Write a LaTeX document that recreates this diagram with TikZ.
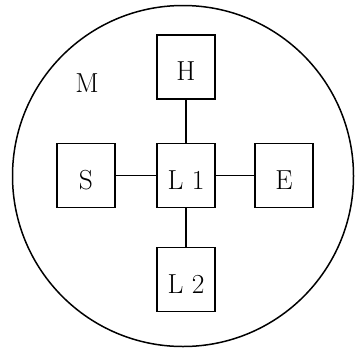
\documentclass[tikz,border=0pt]{standalone}
\usepackage{fontspec}
\setmainfont{Latin Modern Roman}
\begin{document}
\begin{tikzpicture}[x=1pt,y=-1pt,line width=1.5pt,
  box/.style={draw,rectangle,minimum width=58pt,minimum height=64pt,inner sep=0pt,
    text height=27.2pt,text depth=0pt,font=\fontsize{27.5}{32}\selectfont},
  lbl/.style={font=\fontsize{27.5}{32}\selectfont,inner sep=0pt}]
\useasboundingbox (0,0) rectangle (355,348);
\node[draw,circle,minimum size=341pt,inner sep=0pt] (M) at (183,176) {};
\node[lbl] (ml) at (87,83) {M};
\node[box] (L1) at (186,175.5) {L 1};
\node[box] (H) at (186,67) {H};
\node[box] (S) at (86,175.5) {S};
\node[box] (E) at (284,175.5) {E};
\node[box] (L2) at (186,279.5) {L 2};
\draw (L1) -- (H);
\draw (L1) -- (S);
\draw (L1) -- (E);
\draw (L1) -- (L2);
\end{tikzpicture}
\end{document}
